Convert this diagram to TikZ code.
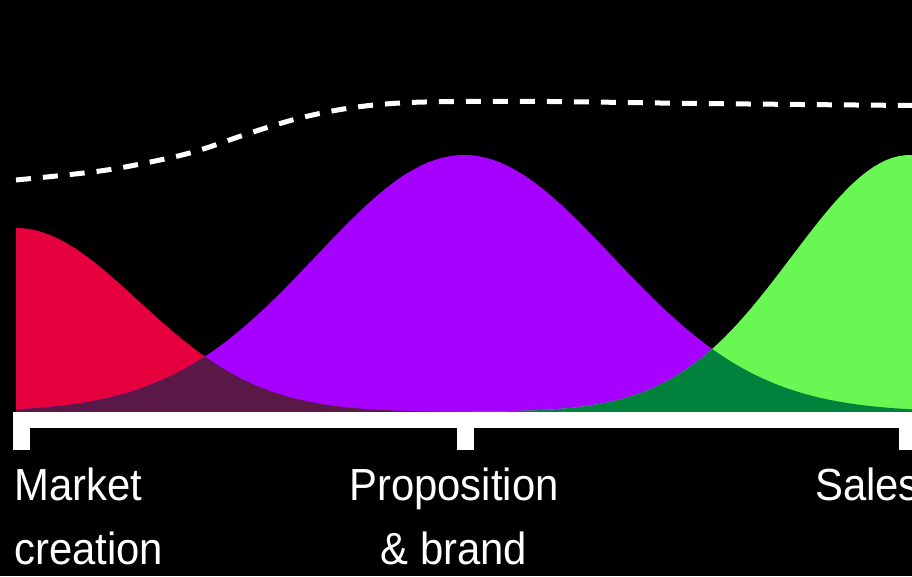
\documentclass[tikz,border=0pt]{standalone}
\usepackage{fontspec}
\setmainfont{Liberation Sans}[FakeStretch=0.93]
\usetikzlibrary{positioning}
\definecolor{bg}{HTML}{000000}
\definecolor{market}{HTML}{E5003D}
\definecolor{prop}{HTML}{A600FF}
\definecolor{sales}{HTML}{69F754}
\definecolor{mixone}{HTML}{5A1846}
\definecolor{mixtwo}{HTML}{00823D}

\begin{document}
\begin{tikzpicture}[x=100pt, y=-100pt,
  label/.style={text=white, inner sep=0pt, font=\fontsize{45pt}{64pt}\selectfont},
  bar/.style={fill=white}]
  % Frame
  \fill[bg] (0,0) rectangle (9.12,5.76);
  \useasboundingbox (0,0) rectangle (9.12,5.76);
  \clip (0,0) rectangle (9.12,5.76);

  % Curves
  \def\redcurve{plot[domain=0.16:5, samples=80] (\x, {4.12-1.84*exp(-0.5*((\x-0.16)/1.22)^2)}) -- (5,4.12) -- (0.16,4.12) -- cycle}
  \def\purplecurve{plot[domain=0.16:9.12, samples=140] (\x, {4.12-2.57*exp(-0.5*((\x-4.64)/1.48)^2)}) -- (9.12,4.12) -- (0.16,4.12) -- cycle}
  \def\greencurve{plot[domain=4:9.12, samples=80] (\x, {4.12-2.57*exp(-0.5*((\x-9.10)/1.18)^2)}) -- (9.12,4.12) -- (4,4.12) -- cycle}
  \fill[market] \redcurve;
  \fill[prop] \purplecurve;
  \fill[sales] \greencurve;
  \begin{scope}
    \clip \redcurve;
    \fill[mixone] \purplecurve;
  \end{scope}
  \begin{scope}
    \clip \greencurve;
    \fill[mixtwo] \purplecurve;
  \end{scope}

  % Trend line
  \draw[white, line width=5pt, dash pattern=on 15pt off 12pt] plot[smooth, tension=0.6] coordinates {
    (0.16,1.80) (1.00,1.71) (1.60,1.60) (2.00,1.50) (2.50,1.33) (3.00,1.18)
    (3.50,1.08) (4.00,1.03) (4.60,1.015) (5.50,1.015) (7.00,1.035) (9.12,1.055)};

  % Axis
  \fill[bar] (0.13,4.12) rectangle (9.12,4.28);
  \foreach \x in {0.13, 4.57, 8.99} {
    \fill[bar] (\x,4.12) rectangle (\x+0.165,4.50);
  }

  % Labels
  \node[label, anchor=base west, align=left] (market) at (0.14,5.64) {Market\\creation};
  \node[label, anchor=base, align=center] (proposition) at (4.54,5.64) {Proposition\\\& brand};
  \node[label, anchor=base west] (sales) at (8.15,5.00) {Sales};
\end{tikzpicture}
\end{document}
